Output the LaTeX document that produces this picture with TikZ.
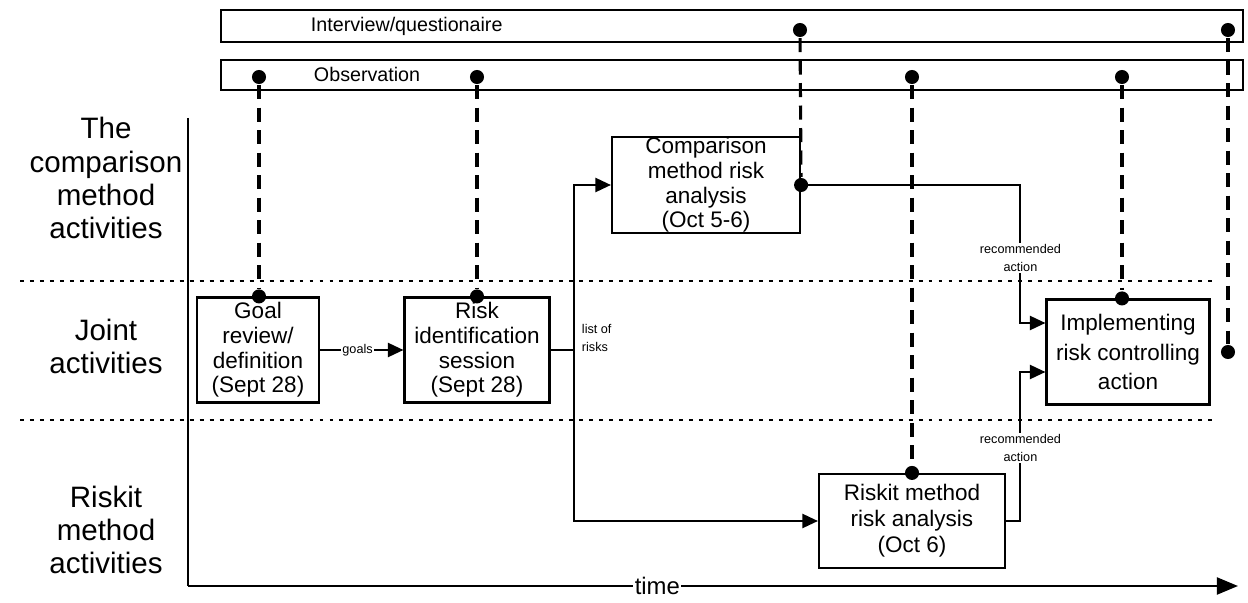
\documentclass[tikz,border=0pt]{standalone}
\usepackage{fontspec}
\setmainfont{Liberation Sans}
\usetikzlibrary{arrows.meta,calc,positioning}

\begin{document}
\begin{tikzpicture}[x=0.025cm, y=-0.025cm, line width=1.4pt,
        >={Triangle[length=11pt,width=10pt]},
        block/.style={rectangle, draw, line width=1.5pt, inner sep=0pt, align=center, font=\fontsize{16}{17.5}\selectfont},
        barbox/.style={rectangle, draw, line width=1.5pt, minimum width=25.55cm, minimum height=0.8cm, inner sep=0pt},
        bartext/.style={font=\fontsize{14}{16}\selectfont, anchor=west, inner sep=0pt},
        lane/.style={align=center, font=\fontsize{21}{23.5}\selectfont},
        note/.style={align=center, font=\fontsize{9}{13}\selectfont, inner sep=1pt},
        lanesep/.style={line width=1.8pt, dash pattern=on 2.8pt off 4.3pt},
        obsline/.style={line width=2.2pt, dash pattern=on 10pt off 6pt},
        dotmark/.style={circle, fill, inner sep=0pt, minimum size=10pt}]

        \useasboundingbox (0,0) rectangle (1248,603);

        % Data collection bars
        \node[barbox] (intv) at (732,26) {};
        \node[barbox, minimum height=0.75cm] (obs) at (732,75) {};
        \node[bartext] (intvt) at (310,26) {Interview/questionaire};
        \node[bartext] (obst) at (313,74) {Observation};

        % Lanes
        \node[lane] (cmplane) at (106,178) {The\\comparison\\method\\activities};
        \node[lane] (jntlane) at (106,346) {Joint\\activities};
        \node[lane] (rsklane) at (106,530) {Riskit\\method\\activities};

        \coordinate (s1l) at (20,281);
        \coordinate (s1r) at (1212,281);
        \coordinate (s2l) at (20,420);
        \coordinate (s2r) at (1212,420);
        \draw[lanesep] (s1l) -- (s1r);
        \draw[lanesep] (s2l) -- (s2r);

        % Time axis
        \coordinate (ytop) at (188,118);
        \coordinate (orig) at (188,586);
        \coordinate (tend) at (1238,586);
        \draw[line width=1.8pt] (ytop) -- (orig);
        \draw[line width=1.8pt, -{Triangle[length=15pt,width=12pt]}] (orig) -- node[pos=0.447, fill=white, inner sep=1pt, font=\fontsize{17}{20}\selectfont] (time) {time} (tend);

        % Activities
        \node[block, minimum width=3.05cm, minimum height=2.625cm] (goal) at (258,350) {Goal\\review/\\definition\\(Sept 28)};
        \node[block, minimum width=3.625cm, minimum height=2.625cm] (rid) at (477,350) {Risk\\identification\\session\\(Sept 28)};
        \node[block, minimum width=4.7cm, minimum height=2.4cm] (cmp) at (706,185) {Comparison\\method risk\\analysis\\(Oct 5-6)};
        \node[block, minimum width=4.075cm, minimum height=2.625cm, font=\fontsize{16}{21}\selectfont] (impl) at (1128,352) {Implementing\\risk controlling\\action};
        \node[block, minimum width=4.65cm, minimum height=2.35cm, font=\fontsize{16}{18.5}\selectfont] (rsk) at (912,521) {Riskit method\\risk analysis\\(Oct 6)};

        % Flows
        \draw[->] (goal) -- node[note, fill=white, pos=0.45] {goals} (rid);

        \coordinate (split) at ($(rid.east)+(23,0)$);
        \draw (rid.east) -- (split);
        \draw[->] (split) |- (cmp.west);
        \draw[->] (split) |- (rsk.west);
        \node[note, anchor=west, align=left] (lst) at ($(split)+(6,-12)$) {list of\\risks};

        \coordinate (ra1) at ($(impl.west)+(0,-29)$);
        \coordinate (ra2) at ($(impl.west)+(0,20)$);
        \draw[->] (cmp.east) -| node[note, fill=white, pos=0.765] {recommended\\action} ($(ra1)+(-25,0)$) -- (ra1);
        \draw[->] (rsk.east) -| node[note, fill=white, pos=0.745] {recommended\\action} ($(ra2)+(-25,0)$) -- (ra2);

        % Observation points
        \node[dotmark] (i1) at (800,30) {};
        \node[dotmark] (i2) at (1228,30) {};
        \node[dotmark] (o1) at (259,77) {};
        \node[dotmark] (o2) at (477,77) {};
        \node[dotmark] (o3) at (912,77) {};
        \node[dotmark] (o4) at (1122,77) {};

        \node[dotmark] (e1) at (o1 |- goal.north) {};
        \node[dotmark] (e2) at (o2 |- rid.north) {};
        \node[dotmark] (e3) at (cmp.east) {};
        \node[dotmark] (e4) at (o3 |- rsk.north) {};
        \node[dotmark] (e5) at (o4 |- impl.north) {};
        \node[dotmark] (e6) at (i2 |- impl.east) {};

        \draw[obsline] (o1) -- (e1);
        \draw[obsline] (o2) -- (e2);
        \draw[obsline] (i1) -- (e3);
        \draw[obsline] (o3) -- (e4);
        \draw[obsline] (o4) -- (e5);
        \draw[obsline] (i2) -- (e6);

    \end{tikzpicture}
\end{document}
